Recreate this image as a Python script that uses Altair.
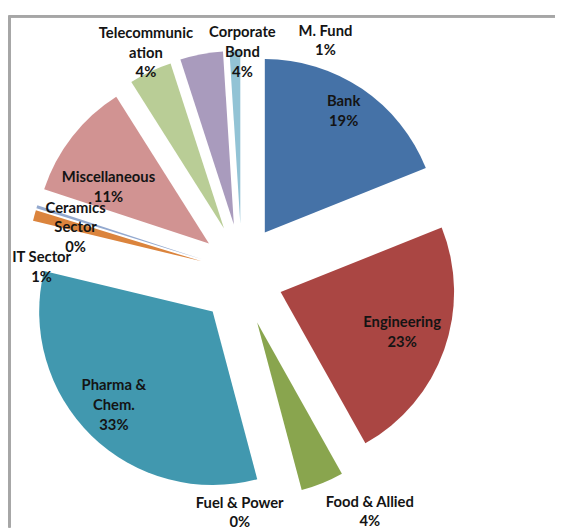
import altair as alt
import pandas as pd

# ---- data ----
categories = ["Bank", "Engineering", "Food & Allied", "Fuel & Power", "Pharma & Chem.",
              "IT Sector", "Ceramics Sector", "Miscellaneous", "Telecommunication",
              "Corporate Bond", "M. Fund"]
values = [19, 23, 4, 0, 33, 1, 0.3, 11, 4, 4, 1]
pct_labels = ["19%", "23%", "4%", "0%", "33%", "1%", "0%", "11%", "4%", "4%", "1%"]
label_names = ["Bank", "Engineering", "Food & Allied", "Fuel & Power", "Pharma &\nChem.",
               "IT Sector", "Ceramics\nSector", "Miscellaneous", "Telecommunic\nation",
               "Corporate\nBond", "M. Fund"]

# ---- style ----
colors = ["#4572A7", "#AA4643", "#89A54E", "#71588F", "#4198AF", "#DB843D",
          "#93A9CF", "#D19392", "#B9CD96", "#A99BBD", "#92C3D5"]
CX, CY = 237, 267          # pie centre (view px)
EX, EY = 42, 52            # explosion distance (horizontal / vertical component)
R = 176                    # pie radius
LCX, LCY = 233, 266        # centre used for label placement
LH = 20                    # label line height
# label placement: (radius from centre, angular nudge from slice mid in degrees)
label_place = {
    "Bank": (197, -1), "Engineering": (177, 0), "Food & Allied": (276, -7),
    "Fuel & Power": (242, 14.4), "Pharma & Chem.": (183, -1), "IT Sector": (199, -13.4),
    "Ceramics Sector": (171, -1.7), "Miscellaneous": (158, -4),
    "Telecommunication": (243, 2.6), "Corporate Bond": (225, 12), "M. Fund": (253, 22.4),
}

df = pd.DataFrame({
    "order": list(range(len(categories))),
    "category": categories,
    "value": values,
    "pct": pct_labels,
    "name": label_names,
    "nlines": [n.count("\n") + 2 for n in label_names],
    "lr": [label_place[c][0] for c in categories],
    "nudge": [label_place[c][1] for c in categories],
})

base = alt.Chart(df).transform_joinaggregate(
    total="sum(value)"
).transform_window(
    cum="sum(value)", frame=[None, 0], sort=[alt.SortField("order")]
).transform_calculate(
    t0="2*PI*(datum.cum-datum.value)/datum.total",
    t1="2*PI*datum.cum/datum.total",
).transform_calculate(
    mid="(datum.t0+datum.t1)/2"
).transform_calculate(
    cx=f"{CX}+{EX}*sin(datum.mid)",
    cy=f"{CY}-{EY}*cos(datum.mid)",
    la="datum.mid+datum.nudge*PI/180",
).transform_calculate(
    lx=f"{LCX}+datum.lr*sin(datum.la)",
    ly=f"{LCY}-datum.lr*cos(datum.la)-(datum.nlines-1)*{LH}/2",
    txt="datum.name+'\\n'+datum.pct",
)

arcs = base.mark_arc(radius=R).encode(
    x=alt.X("cx:Q", scale=None),
    y=alt.Y("cy:Q", scale=None),
    theta=alt.Theta("t0:Q", scale=None),
    theta2="t1:Q",
    color=alt.Color("category:N", scale=alt.Scale(domain=categories, range=colors), legend=None),
)

labels = base.mark_text(
    font="Lato", fontSize=15, fontWeight="bold", color="#141414",
    lineBreak="\n", lineHeight=LH, align="center", baseline="middle",
).encode(
    x=alt.X("lx:Q", scale=None),
    y=alt.Y("ly:Q", scale=None),
    text="txt:N",
)

W, H = 555, 523
top_border = alt.Chart(df).mark_rule(color="#A6A6A6", strokeWidth=2).encode(
    x=alt.value(1), x2=alt.value(W), y=alt.value(4.5)
)
left_border = alt.Chart(df).mark_rule(color="#A6A6A6", strokeWidth=2).encode(
    x=alt.value(1.5), y=alt.value(4), y2=alt.value(H)
)

chart = alt.layer(top_border, left_border, arcs, labels).properties(
    width=W, height=H, padding=0, autosize=alt.AutoSizeParams(type="none")
).configure_view(stroke=None)

chart.save("out.html", embed_options={"renderer": "svg", "actions": False})
